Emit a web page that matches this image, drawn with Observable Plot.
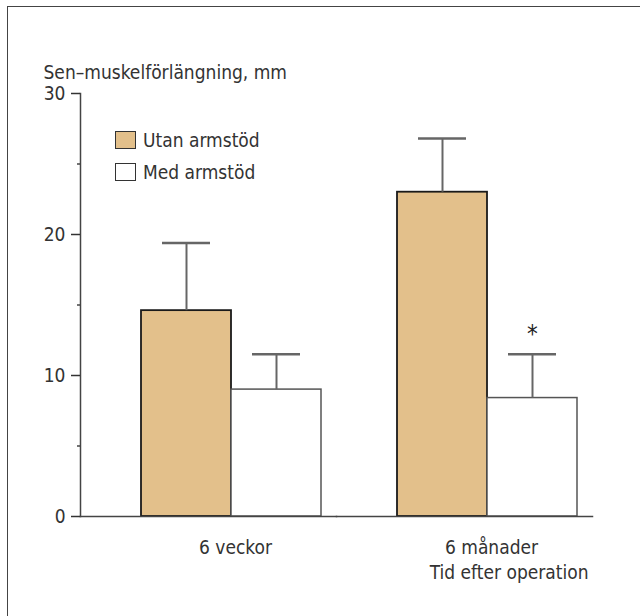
<!DOCTYPE html>
<html>
<head>
<meta charset="utf-8">
<script src="https://cdn.jsdelivr.net/npm/d3@7"></script>
<script src="https://cdn.jsdelivr.net/npm/@observablehq/plot@0.6"></script>
<style>
  html, body { margin: 0; padding: 0; background: #fff; }
  #wrap { position: relative; width: 640px; height: 616px; overflow: hidden;
    font-family: "Liberation Sans Narrow", "DejaVu Sans Condensed", "Roboto Condensed", sans-serif; color: #333; }
  #wrap svg { position: absolute; left: 0; top: 0; }
  #border { position: absolute; left: 7px; top: 6px; width: 700px; height: 700px;
    border-top: 1.5px solid #444; border-left: 1.5px solid #444; }
  #legend { position: absolute; left: 115px; top: 124px; font-size: 19px; }
  .item { display: flex; align-items: center; height: 32px; }
  .sw { width: 19px; height: 16px; border: 1.5px solid #333; margin-right: 7px; }
</style>
</head>
<body>
<div id="wrap"><div id="border"></div><div id="legend"></div></div>
<script>
const groups = ["6 veckor", "6 månader"];
const series = ["Utan armstöd", "Med armstöd"];
const utanMean = [14.6, 23.0];
const utanSD = [4.8, 3.8];
const medMean = [9.0, 8.4];
const medSD = [2.5, 3.1];
const medSig = ["", "*"];
const yTicks = [0, 10, 20, 30];
const yMinorTicks = [5, 15, 25];
const yLabel = "Sen–muskelförlängning, mm";
const xLabel = "Tid efter operation";
const colors = ["#E3C08B", "#FFFFFF"];

const data = groups.flatMap((g, i) => [
  {group: g, series: series[0], mean: utanMean[i], sd: utanSD[i], sig: ""},
  {group: g, series: series[1], mean: medMean[i], sd: medSD[i], sig: medSig[i]}
]);

const font = '"Liberation Sans Narrow", "DejaVu Sans Condensed", "Roboto Condensed", sans-serif';

const legend = document.getElementById("legend");
series.forEach((s, i) => {
  const item = document.createElement("div");
  item.className = "item";
  const sw = document.createElement("div");
  sw.className = "sw";
  sw.style.background = colors[i];
  const t = document.createElement("span");
  t.textContent = s;
  item.appendChild(sw);
  item.appendChild(t);
  legend.appendChild(item);
});

const chart = Plot.plot({
  width: 640, height: 616,
  marginTop: 93, marginBottom: 100, marginLeft: 80, marginRight: 48,
  style: {fontFamily: font, fontSize: "19px", color: "#333", background: "transparent", overflow: "visible"},
  fx: {domain: groups, paddingInner: 0, paddingOuter: 0, label: null},
  x: {domain: series, paddingInner: 0, paddingOuter: 0.4144, align: 0.8, axis: null},
  y: {domain: [0, 30], axis: null},
  color: {domain: series, range: colors},
  marks: [
    Plot.barY(data.filter(d => d.series === series[0]), {fx: "group", x: "series", y: "mean", fill: "series", stroke: "#1a1a1a", strokeWidth: 1.8}),
    Plot.barY(data.filter(d => d.series === series[1]), {fx: "group", x: "series", y: "mean", fill: "series", stroke: "#555", strokeWidth: 1.5}),
    Plot.ruleX(data, {fx: "group", x: "series", y1: "mean", y2: d => d.mean + d.sd, stroke: "#666", strokeWidth: 2}),
    Plot.tickY(data, {fx: "group", x: "series", y: d => d.mean + d.sd, insetLeft: 21, insetRight: 21, stroke: "#666", strokeWidth: 2.5}),
    Plot.text(data.filter(d => d.sig), {fx: "group", x: "series", y: d => d.mean + d.sd, text: "sig", dy: -20, fontSize: 24, fill: "#222"}),
    Plot.frame({anchor: "left", facetAnchor: "left", stroke: "#444", strokeWidth: 1.5}),
    Plot.frame({anchor: "bottom", stroke: "#444", strokeWidth: 1.5}),
    Plot.axisY(yTicks, {tickSize: 9, tickPadding: 6, fontSize: 19, color: "#333", strokeWidth: 1.5, label: null}),
    Plot.axisY(yMinorTicks, {tickSize: 3, text: null, color: "#444", strokeWidth: 1.5, label: null}),
    Plot.axisFx({anchor: "bottom", tickSize: 0, tickPadding: 24, fontSize: 19, dx: 27, color: "#333", label: null}),
    Plot.text([yLabel], {facetAnchor: "left", frameAnchor: "top-left", textAnchor: "start", lineAnchor: "bottom", dx: -37, dy: -15, fontSize: 19, fill: "#333"}),
    Plot.text([xLabel], {facetAnchor: "right", frameAnchor: "bottom-right", textAnchor: "end", dx: -4, dy: 62, fontSize: 19, fill: "#333"})
  ]
});
document.getElementById("wrap").appendChild(chart);
</script>
</body>
</html>
